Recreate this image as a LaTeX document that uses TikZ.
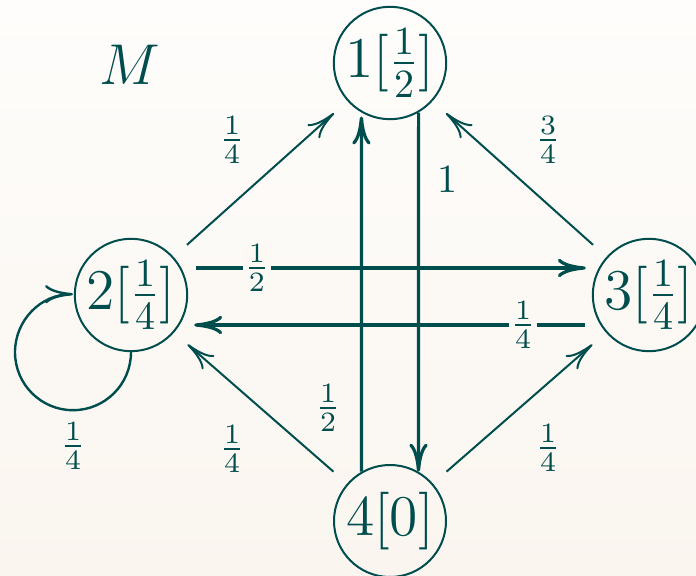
\documentclass[tikz,border=0pt]{standalone}
\usetikzlibrary{arrows.meta}
\definecolor{ink}{HTML}{004D4D}
\definecolor{bgtop}{RGB}{254,253,251}
\definecolor{bgbot}{RGB}{250,245,239}
\definecolor{bgmid}{RGB}{252,249,245}
\begin{document}
\begin{tikzpicture}[x=0.25pt,y=-0.25pt,
  state/.style={circle, draw=ink, line width=0.5pt, minimum size=28pt, inner sep=0pt, text=ink, font=\Large},
  tip/.style={-{Computer Modern Rightarrow[length=7pt,width=4.6pt]}},
  diag/.style={tip, draw=ink, line width=0.5pt, shorten <=4.5pt, shorten >=4.5pt},
  hv/.style={tip, draw=ink, line width=0.8pt},
  lab/.style={text=ink, inner sep=0.3pt},
  onlabel/.style={lab, fill=bgmid}]
\shade[top color=bgtop,bottom color=bgbot] (0,0) rectangle (696,576);
\useasboundingbox (0,0) rectangle (696,576);

\node[state] (n1) at (390,63) {$1[\frac{1}{2}]$};
\node[state] (n2) at (131,295) {$2[\frac{1}{4}]$};
\node[state] (n3) at (649,295) {$3[\frac{1}{4}]$};
\node[state] (n4) at (390,521) {$4[0]$};
\node[text=ink, font=\Large] (m) at (130,65) {$M$};

\draw[diag] (n2) -- (n1);
\draw[diag] (n3) -- (n1);
\draw[diag] (n4) -- (n2);
\draw[diag] (n4) -- (n3);

\draw[hv, shorten <=2pt, shorten >=1.5pt] ([yshift=6.75pt]n2.east) -- node[onlabel, pos=0.17] (l23) {$\frac{1}{2}$} ([yshift=6.75pt]n3.west);
\draw[hv, shorten <=1.75pt, shorten >=1.5pt] ([yshift=-7.5pt]n3.west) -- node[onlabel, pos=0.17] (l32) {$\frac{1}{4}$} ([yshift=-7.5pt]n2.east);
\draw[hv, shorten >=1pt] (n4.120) -- (n1.-120);
\draw[hv] (n1.-60) -- (n4.60);

\draw[tip, draw=ink, line width=0.6pt] (n2.south) arc[start angle=0, end angle=270, radius=58];

\node[lab] (l21) at (232,140) {$\frac{1}{4}$};
\node[lab] (l31) at (548,140) {$\frac{3}{4}$};
\node[lab] (l14) at (447,180) {$1$};
\node[lab] (l41) at (328,408) {$\frac{1}{2}$};
\node[lab] (l42) at (232,449) {$\frac{1}{4}$};
\node[lab] (l43) at (548,448) {$\frac{1}{4}$};
\node[lab] (l22) at (73,446) {$\frac{1}{4}$};
\end{tikzpicture}
\end{document}
